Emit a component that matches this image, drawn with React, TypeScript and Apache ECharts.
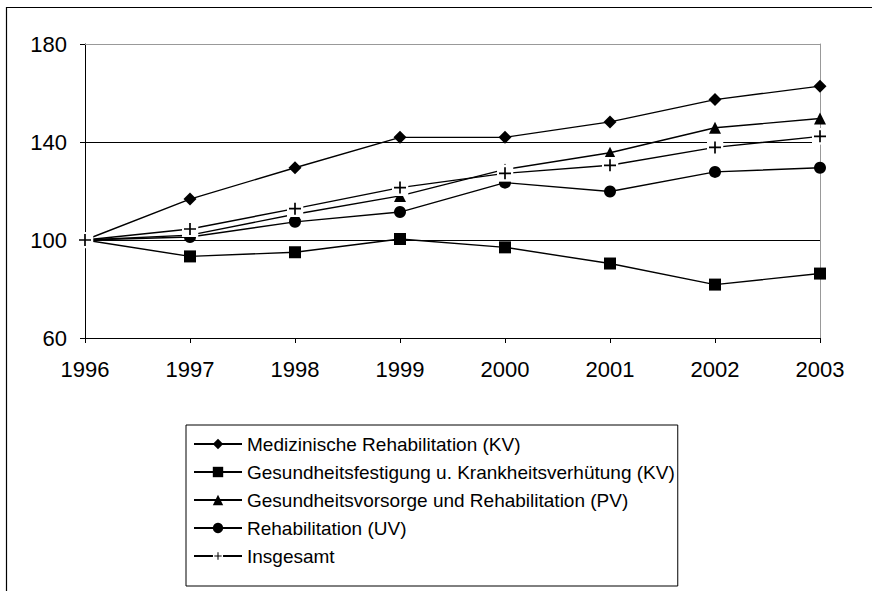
import React, { useEffect, useRef } from "react";
import * as echarts from "echarts";

const years = ["1996", "1997", "1998", "1999", "2000", "2001", "2002", "2003"];
const seriesNames = [
  "Medizinische Rehabilitation (KV)",
  "Gesundheitsfestigung u. Krankheitsverhütung (KV)",
  "Gesundheitsvorsorge und Rehabilitation (PV)",
  "Rehabilitation (UV)",
  "Insgesamt",
];
const medReha = [100, 116.7, 129.5, 141.9, 141.9, 148.2, 157.3, 162.8];
const gesFest = [100, 93.3, 95.0, 100.4, 97.0, 90.4, 81.8, 86.3];
const gesVors = [100, 102, 110.5, 118, 128.8, 135.6, 145.8, 149.6];
const rehaUV = [100, 101.2, 107.4, 111.4, 123.4, 119.8, 127.8, 129.5];
const insgesamt = [100, 104.5, 112.8, 121.4, 127.2, 130.5, 137.8, 142.3];

const FONT = "'Liberation Sans', Arial, Helvetica, sans-serif";

const plusSvg =
  "<svg xmlns='http://www.w3.org/2000/svg' width='17' height='17' viewBox='0 0 17 17'>" +
  "<rect x='0' y='0' width='17' height='17' fill='white'/>" +
  "<line x1='2.5' y1='8.5' x2='14.5' y2='8.5' stroke='black' stroke-width='1.7'/>" +
  "<line x1='8.5' y1='2.5' x2='8.5' y2='14.5' stroke='black' stroke-width='1.7'/>" +
  "</svg>";
const plusSymbol = "image://data:image/svg+xml;charset=utf-8," + encodeURIComponent(plusSvg);

export default function App() {
  const ref = useRef<HTMLDivElement>(null);
  useEffect(() => {
    if (!ref.current) return;
    const chart = echarts.init(ref.current, null, { renderer: "svg" });
    const lineStyle = { color: "#000", width: 1.4 };
    const mk = (name: string, data: number[], symbol: string, size: number) => ({
      name,
      type: "line",
      data,
      symbol,
      symbolSize: size,
      showAllSymbol: true,
      lineStyle,
      itemStyle: { color: "#000", borderWidth: 0 },
      emphasis: { disabled: true },
    });
    chart.setOption({
      animation: false,
      textStyle: { fontFamily: FONT },
      graphic: [
        {
          type: "rect",
          shape: { x: 6.5, y: 7.5, width: 2000, height: 2000 },
          style: { fill: "none", stroke: "#000", lineWidth: 1.2 },
          silent: true,
        },
      ],
      grid: { left: 85, right: 52, top: 44, bottom: 253, containLabel: false },
      xAxis: [
        {
          type: "category",
          data: years,
          boundaryGap: false,
          axisLine: { show: true, lineStyle: { color: "#000", width: 1 } },
          axisTick: { show: true, inside: false, length: 5, alignWithLabel: true, lineStyle: { color: "#000" } },
          axisLabel: { color: "#000", fontSize: 22, fontFamily: FONT, margin: 20 },
          splitLine: { show: false },
        },
        {
          type: "category",
          data: years,
          position: "top",
          boundaryGap: false,
          axisLine: { show: true, lineStyle: { color: "#999", width: 1 } },
          axisTick: { show: false },
          axisLabel: { show: false },
          splitLine: { show: false },
        },
      ],
      yAxis: [
        {
          type: "value",
          min: 60,
          max: 180,
          interval: 40,
          axisLine: { show: true, lineStyle: { color: "#000", width: 1 } },
          axisTick: { show: true, inside: false, length: 5, lineStyle: { color: "#000" } },
          axisLabel: { color: "#000", fontSize: 22, fontFamily: FONT, margin: 18 },
          splitLine: { show: true, showMinLine: false, showMaxLine: false, lineStyle: { color: "#000", width: 1 } },
        },
        {
          type: "value",
          min: 60,
          max: 180,
          interval: 40,
          position: "right",
          axisLine: { show: true, lineStyle: { color: "#999", width: 1 } },
          axisTick: { show: false },
          axisLabel: { show: false },
          splitLine: { show: false },
        },
      ],
      legend: {
        orient: "vertical",
        left: 186,
        top: 425,
        padding: [9, 3, 20, 7],
        itemWidth: 48,
        itemHeight: 13,
        itemGap: 8,
        borderColor: "#000",
        borderWidth: 1,
        borderRadius: 0,
        selectedMode: false,
        textStyle: { color: "#000", fontSize: 19, fontFamily: FONT, lineHeight: 20 },
        data: seriesNames,
      },
      series: [
        mk(seriesNames[0], medReha, "diamond", 13),
        mk(seriesNames[1], gesFest, "rect", 12),
        mk(seriesNames[2], gesVors, "triangle", 12),
        mk(seriesNames[3], rehaUV, "circle", 12),
        mk(seriesNames[4], insgesamt, plusSymbol, 17),
      ],
    });
    return () => chart.dispose();
  }, []);
  return (
    <div
      ref={ref}
      style={{ position: "absolute", left: 0, top: 0, width: 872, height: 591, background: "#fff" }}
    />
  );
}
